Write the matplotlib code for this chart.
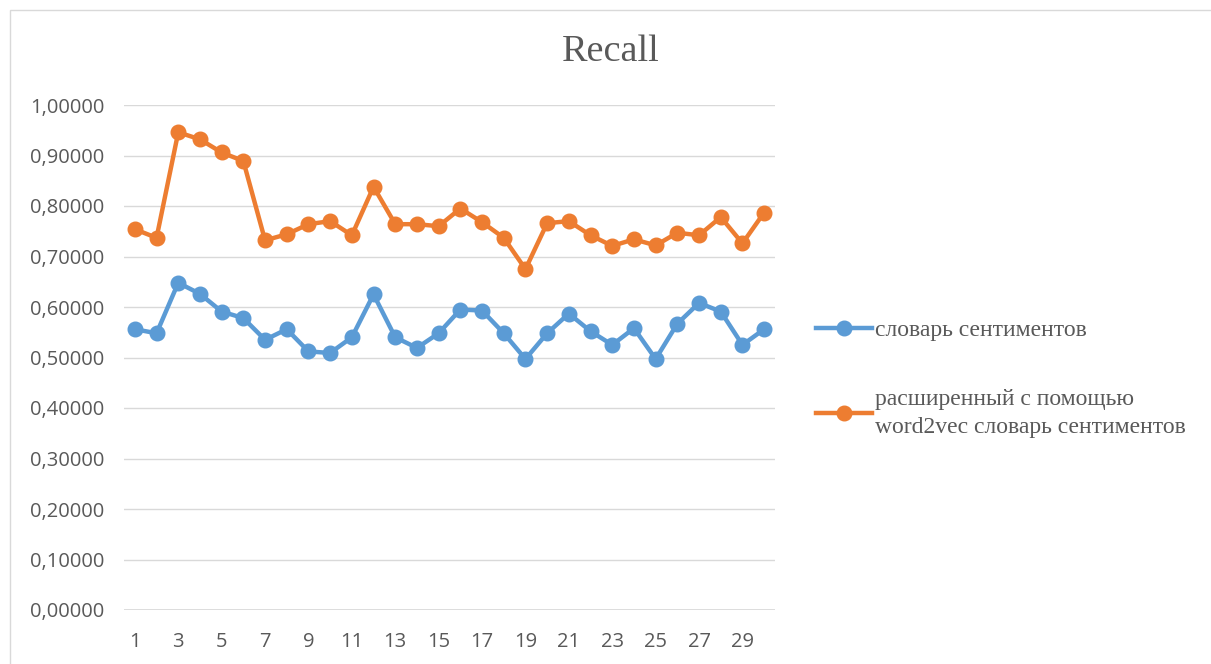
import matplotlib.pyplot as plt
from matplotlib.patches import Rectangle
from matplotlib.ticker import FuncFormatter

# Recall per run, two sentiment dictionaries
runs = list(range(1, 31))
base_dict = [0.556, 0.548, 0.648, 0.626, 0.591, 0.578, 0.535, 0.556, 0.512, 0.509,
             0.540, 0.625, 0.540, 0.519, 0.548, 0.595, 0.593, 0.548, 0.497, 0.548,
             0.587, 0.552, 0.525, 0.558, 0.497, 0.567, 0.608, 0.591, 0.525, 0.556]
w2v_dict = [0.754, 0.737, 0.946, 0.932, 0.906, 0.889, 0.732, 0.744, 0.764, 0.770,
            0.742, 0.838, 0.764, 0.764, 0.760, 0.795, 0.768, 0.737, 0.675, 0.766,
            0.770, 0.742, 0.721, 0.734, 0.722, 0.747, 0.742, 0.778, 0.726, 0.787]
labels = ["словарь сентиментов",
          "расширенный с помощью\nword2vec словарь сентиментов"]

grey = "#595959"

fig = plt.figure(figsize=(12.11, 6.64), dpi=100)
ax = fig.add_axes([124 / 1211, 1 - 610 / 664, (775 - 124) / 1211, (610 - 105) / 664])

ax.plot(runs, base_dict, color="#5B9BD5", lw=3.2, marker="o", ms=10.5, label=labels[0])
ax.plot(runs, w2v_dict, color="#ED7D31", lw=3.2, marker="o", ms=10.5, label=labels[1])

ax.set_xlim(0.5, 30.5)
ax.set_ylim(0, 1.0)
ax.set_yticks([i / 10 for i in range(11)])
ax.yaxis.set_major_formatter(FuncFormatter(lambda v, p: f"{v:.5f}".replace(".", ",")))
ax.set_xticks(runs[::2])
ax.grid(axis="y", color="#d9d9d9", lw=1)
ax.set_axisbelow(True)
for s in ax.spines.values():
    s.set_visible(False)
ax.axhline(0, color="#d9d9d9", lw=1.2, zorder=0)
ax.tick_params(length=0, labelsize=14.5, labelcolor=grey)
ax.tick_params(axis="x", pad=16)
ax.tick_params(axis="y", pad=14)
for t in ax.get_xticklabels() + ax.get_yticklabels():
    t.set_family("Open Sans")

fig.text(611 / 1211, 1 - 52 / 664, "Recall", ha="center", va="center",
         family="Liberation Serif", fontsize=27.5, color=grey)

leg = fig.legend(loc="upper left", bbox_to_anchor=(795 / 1211, 1 - 298 / 664), frameon=False,
                 prop={"family": "Liberation Serif", "size": 17}, labelcolor=grey,
                 handlelength=2.35, handletextpad=0.12, labelspacing=2.05)
for t in leg.get_texts():
    t.set_linespacing(1.4)

fig.patches.append(Rectangle((10 / 1211, -0.1), 1.2, 1.1 - 10 / 664,
                             transform=fig.transFigure, fill=False,
                             edgecolor="#d9d9d9", lw=1))

fig.savefig("out.png", dpi=100)
